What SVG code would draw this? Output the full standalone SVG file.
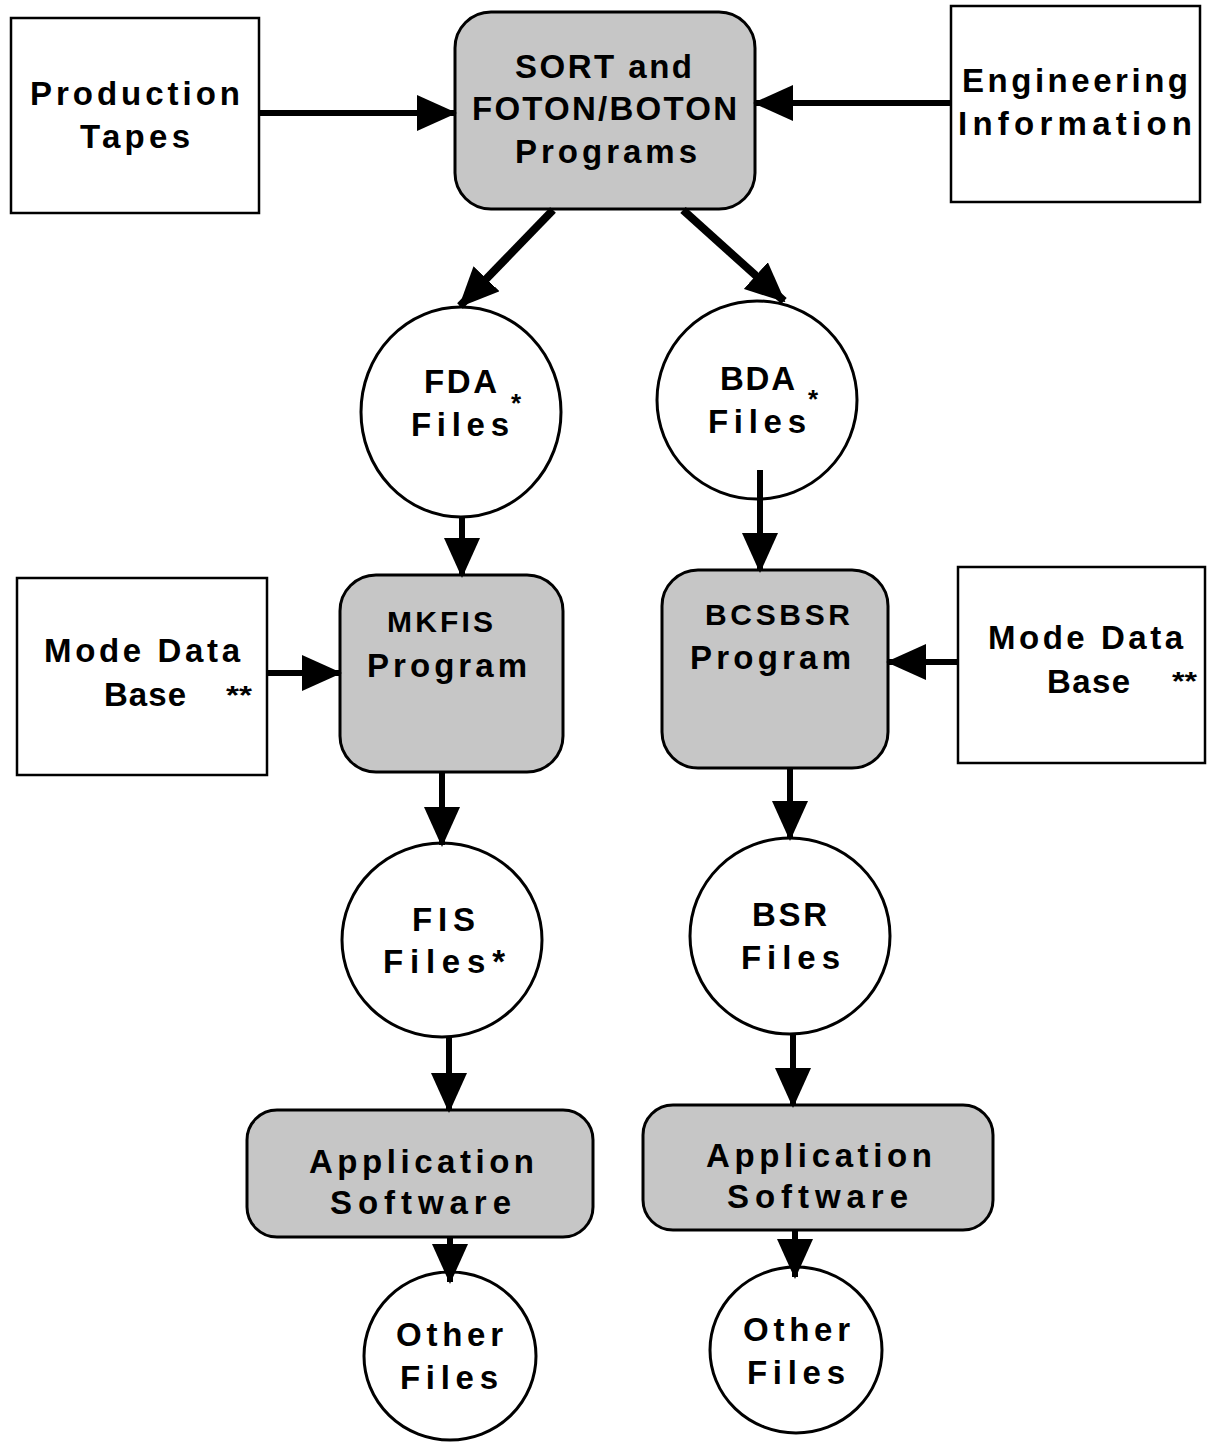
<svg xmlns="http://www.w3.org/2000/svg" width="1207" height="1444" viewBox="0 0 1207 1444">
  <style>
    .box { fill: #ffffff; stroke: #000; stroke-width: 2.5; }
    .prog { fill: #c6c6c6; stroke: #000; stroke-width: 3; }
    .file { fill: #ffffff; stroke: #000; stroke-width: 3; }
    .lbl { font-family: "Liberation Sans", Arial, sans-serif; font-weight: bold; font-size: 33px; fill: #000; }
    .sm { font-size: 30px; }
    .star { font-family: "Liberation Sans", Arial, sans-serif; font-weight: bold; font-size: 26px; fill: #000; }
    .wire { stroke: #000; stroke-width: 6; fill: none; marker-end: url(#head); }
    .thick { stroke-width: 8; }
  </style>
  <defs>
    <marker id="head" markerUnits="userSpaceOnUse" markerWidth="40" markerHeight="36" viewBox="0 0 40 36" refX="38" refY="18" orient="auto">
      <path d="M0,0 L40,18 L0,36 Z" fill="#000"/>
    </marker>
  </defs>

  <rect width="1207" height="1444" fill="#ffffff"/>

  <!-- sources -->
  <g id="production-tapes">
    <rect class="box" x="11" y="18" width="248" height="195"/>
    <text class="lbl" x="30" y="105" textLength="210" lengthAdjust="spacing">Production</text>
    <text class="lbl" x="80" y="148" textLength="110" lengthAdjust="spacing">Tapes</text>
  </g>

  <g id="engineering-information">
    <rect class="box" x="951" y="6" width="249" height="196"/>
    <text class="lbl" x="962" y="92" textLength="226" lengthAdjust="spacing">Engineering</text>
    <text class="lbl" x="958" y="135" textLength="234" lengthAdjust="spacing">Information</text>
  </g>

  <g id="sort-foton-boton">
    <rect class="prog" x="455" y="12" width="300" height="197" rx="36"/>
    <text class="lbl" x="515" y="78" textLength="177" lengthAdjust="spacing">SORT and</text>
    <text class="lbl" x="472" y="120" textLength="265" lengthAdjust="spacing">FOTON/BOTON</text>
    <text class="lbl" x="515" y="163" textLength="182" lengthAdjust="spacing">Programs</text>
  </g>

  <!-- direct-access files -->
  <g id="fda-files">
    <ellipse class="file" cx="461" cy="412" rx="100" ry="105"/>
    <text class="lbl" x="424" y="393" textLength="73" lengthAdjust="spacing">FDA</text>
    <text class="star" x="511" y="412">*</text>
    <text class="lbl" x="411" y="436" textLength="98" lengthAdjust="spacing">Files</text>
  </g>

  <g id="bda-files">
    <ellipse class="file" cx="757" cy="400" rx="100" ry="99"/>
    <text class="lbl" x="720" y="390" textLength="75" lengthAdjust="spacing">BDA</text>
    <text class="star" x="808" y="408">*</text>
    <text class="lbl" x="708" y="433" textLength="98" lengthAdjust="spacing">Files</text>
  </g>

  <!-- mode data bases -->
  <g id="mode-data-base-left">
    <rect class="box" x="17" y="578" width="250" height="197"/>
    <text class="lbl" x="44" y="662" textLength="196" lengthAdjust="spacing">Mode  Data</text>
    <text class="lbl" x="104" y="706" textLength="82" lengthAdjust="spacing">Base</text>
    <text class="star" x="226" y="704" textLength="26" lengthAdjust="spacingAndGlyphs">**</text>
  </g>

  <g id="mode-data-base-right">
    <rect class="box" x="958" y="567" width="247" height="196"/>
    <text class="lbl" x="988" y="649" textLength="195" lengthAdjust="spacing">Mode  Data</text>
    <text class="lbl" x="1047" y="693" textLength="83" lengthAdjust="spacing">Base</text>
    <text class="star" x="1172" y="690" textLength="25" lengthAdjust="spacingAndGlyphs">**</text>
  </g>

  <!-- programs -->
  <g id="mkfis-program">
    <rect class="prog" x="340" y="575" width="223" height="197" rx="36"/>
    <text class="lbl sm" x="387" y="632" textLength="106" lengthAdjust="spacing">MKFIS</text>
    <text class="lbl" x="367" y="677" textLength="160" lengthAdjust="spacing">Program</text>
  </g>

  <g id="bcsbsr-program">
    <rect class="prog" x="662" y="570" width="226" height="198" rx="36"/>
    <text class="lbl sm" x="705" y="625" textLength="145" lengthAdjust="spacing">BCSBSR</text>
    <text class="lbl" x="690" y="669" textLength="161" lengthAdjust="spacing">Program</text>
  </g>

  <!-- output files -->
  <g id="fis-files">
    <ellipse class="file" cx="442" cy="940" rx="100" ry="97"/>
    <text class="lbl" x="412" y="931" textLength="63" lengthAdjust="spacing">FIS</text>
    <text class="lbl" x="383" y="973" textLength="122" lengthAdjust="spacing">Files*</text>
  </g>

  <g id="bsr-files">
    <ellipse class="file" cx="790" cy="936" rx="100" ry="98"/>
    <text class="lbl" x="752" y="926" textLength="75" lengthAdjust="spacing">BSR</text>
    <text class="lbl" x="741" y="969" textLength="99" lengthAdjust="spacing">Files</text>
  </g>

  <!-- application software -->
  <g id="application-software-left">
    <rect class="prog" x="247" y="1110" width="346" height="127" rx="30"/>
    <text class="lbl" x="309" y="1173" textLength="225" lengthAdjust="spacing">Application</text>
    <text class="lbl" x="330" y="1214" textLength="181" lengthAdjust="spacing">Software</text>
  </g>

  <g id="application-software-right">
    <rect class="prog" x="643" y="1105" width="350" height="125" rx="30"/>
    <text class="lbl" x="706" y="1167" textLength="226" lengthAdjust="spacing">Application</text>
    <text class="lbl" x="727" y="1208" textLength="181" lengthAdjust="spacing">Software</text>
  </g>

  <!-- other files -->
  <g id="other-files-left">
    <ellipse class="file" cx="450" cy="1356" rx="86" ry="84"/>
    <text class="lbl" x="396" y="1346" textLength="107" lengthAdjust="spacing">Other</text>
    <text class="lbl" x="400" y="1389" textLength="98" lengthAdjust="spacing">Files</text>
  </g>

  <g id="other-files-right">
    <ellipse class="file" cx="796" cy="1350" rx="86" ry="83"/>
    <text class="lbl" x="743" y="1341" textLength="107" lengthAdjust="spacing">Other</text>
    <text class="lbl" x="747" y="1384" textLength="98" lengthAdjust="spacing">Files</text>
  </g>

  <!-- connectors, drawn over the node outlines -->
  <g id="connectors">
    <line class="wire" x1="258" y1="113" x2="455" y2="113"/>
    <line class="wire" x1="950" y1="103" x2="755" y2="103"/>
    <line class="wire thick" x1="553" y1="210" x2="460" y2="306"/>
    <line class="wire thick" x1="683" y1="210" x2="784" y2="301"/>
    <line class="wire" x1="462" y1="517" x2="462" y2="576"/>
    <line class="wire" x1="760" y1="470" x2="760" y2="571"/>
    <line class="wire" x1="267" y1="673" x2="340" y2="673"/>
    <line class="wire" x1="958" y1="662" x2="888" y2="662"/>
    <line class="wire" x1="442" y1="772" x2="442" y2="845"/>
    <line class="wire" x1="790" y1="768" x2="790" y2="839"/>
    <line class="wire" x1="449" y1="1036" x2="449" y2="1111"/>
    <line class="wire" x1="793" y1="1033" x2="793" y2="1106"/>
    <line class="wire" x1="450" y1="1236" x2="450" y2="1282"/>
    <line class="wire" x1="795" y1="1229" x2="795" y2="1277"/>
  </g>
</svg>
